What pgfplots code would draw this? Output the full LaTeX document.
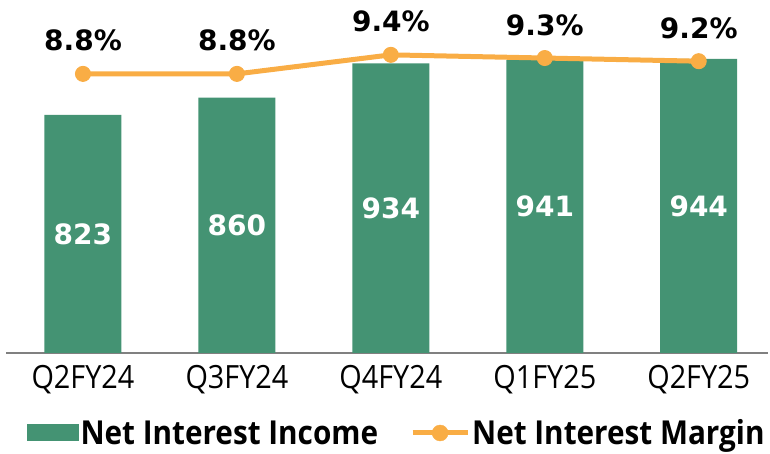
\documentclass[border=0pt]{standalone}
\usepackage{pgfplots}
\pgfplotsset{compat=1.18}
\usepackage{pgfplotstable}
\usepackage{fontspec}
\setmainfont{Open Sans}
\newfontfamily\condfont[FakeStretch=0.9]{Open Sans}
\newfontfamily\lblfont{DejaVu Sans}
\definecolor{niigreen}{HTML}{449373}
\definecolor{nimorange}{HTML}{F9AD45}

\pgfplotstableread{
x nii nim
0 823 8.8
1 860 8.8
2 934 9.4
3 941 9.3
4 944 9.2
}\datatable

\begin{document}
\begin{tikzpicture}
\begin{axis}[
  scale only axis, width=762pt, height=353pt,
  xmin=-0.5, xmax=4.45, ymin=309, ymax=1071,
  axis y line=none, axis x line*=bottom,
  x axis line style={draw=gray, line width=2pt, -},
  xtick=data, xticklabels={Q2FY24,Q3FY24,Q4FY24,Q1FY25,Q2FY25},
  major tick length=0pt,
  xticklabel style={font=\condfont\fontsize{32}{38}\selectfont, yshift=-9pt},
  clip=false,
  legend columns=2,
  legend style={draw=none, fill=none, at={(0.5125,-0.2266)}, anchor=center,
    font=\condfont\bfseries\fontsize{33}{38}\selectfont, inner sep=0pt,
    /tikz/every even column/.append style={column sep=30pt}},
  legend cell align=left,
]
\addplot[ybar, bar width=77pt, fill=niigreen, draw=none,
  legend image code/.code={\fill[niigreen] (0pt,-8.5pt) rectangle (52pt,8.5pt);}]
  table[x=x, y=nii] {\datatable};
\addlegendentry{Net Interest Income}
\addplot[draw=none, mark=none, forget plot, point meta=explicit,
  nodes near coords={\lblfont\bfseries\pgfmathprintnumber[assume math mode=true]{\pgfplotspointmeta}},
  every node near coord/.append style={anchor=center, text=white, font=\fontsize{28}{34}\selectfont, inner sep=0pt}]
  table[x=x, y expr={(\thisrow{nii}+309)/2}, meta=nii] {\datatable};
\addlegendimage{legend image code/.code={\draw[nimorange, line width=5pt] (0pt,0pt) -- (55pt,0pt); \fill[nimorange] (27.5pt,0pt) circle (8pt);}}
\addlegendentry{Net Interest Margin}
\end{axis}
\begin{axis}[
  scale only axis, width=762pt, height=353pt,
  xmin=-0.5, xmax=4.45, ymin=0, ymax=11.13,
  hide axis, clip=false,
]
\addplot[nimorange, line width=5pt, mark=*, mark size=7.5pt,
  mark options={fill=nimorange, draw=nimorange, line width=1pt},
  point meta=y,
  nodes near coords={\lblfont\bfseries\pgfmathprintnumber[fixed, fixed zerofill, precision=1, assume math mode=true]{\pgfplotspointmeta}\%},
  every node near coord/.append style={anchor=south, text=black, font=\fontsize{28}{34}\selectfont, inner sep=0pt, yshift=22pt}]
  table[x=x, y=nim] {\datatable};
\end{axis}
\pgfresetboundingbox
\path (-6pt,-101pt) rectangle (764pt,353pt);
\end{tikzpicture}
\end{document}
